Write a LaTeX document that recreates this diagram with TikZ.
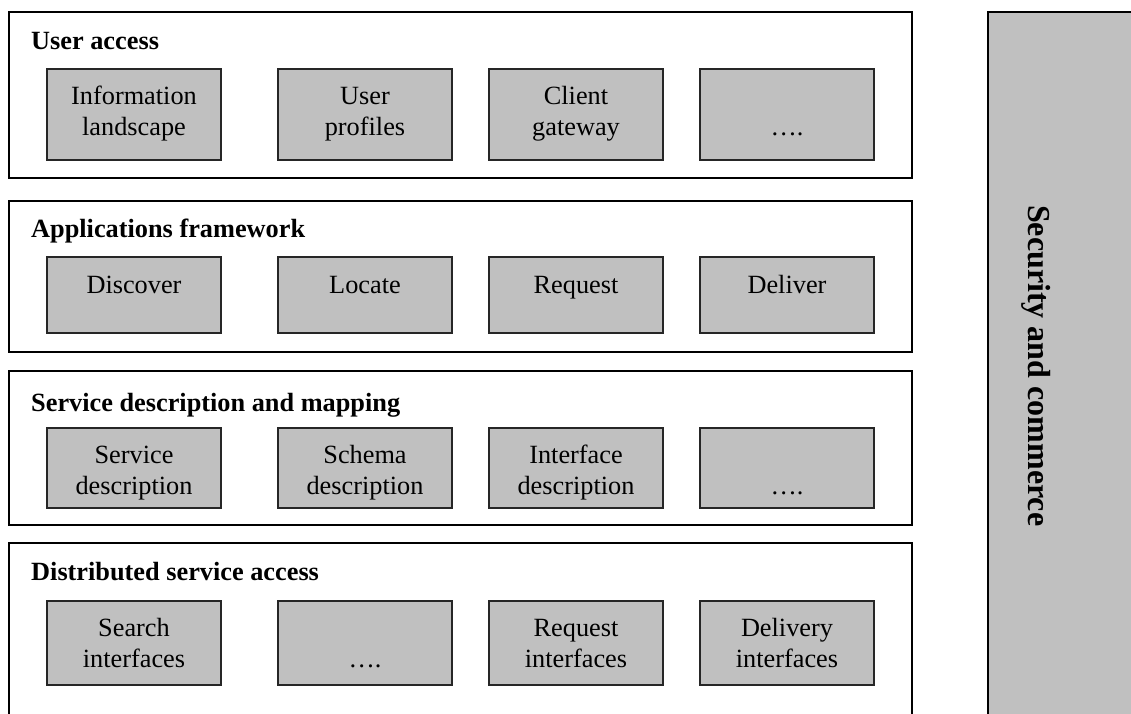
\documentclass[tikz,border=0pt]{standalone}
\usepackage{fontspec}
\setmainfont{Liberation Serif}
\definecolor{boxgray}{HTML}{C0C0C0}
\begin{document}
\begin{tikzpicture}[x=1pt,y=-1pt,
  layer/.style={draw=black, line width=1.4pt, inner sep=0pt},
  inbox/.style={draw=black!85, fill=boxgray, line width=1.1pt, inner sep=0pt, minimum width=174pt},
  intext/.style={font=\fontsize{26.3}{31}\selectfont, align=center, inner sep=0pt, anchor=north},
  ttl/.style={font=\bfseries\fontsize{26.3}{31}\selectfont, inner sep=0pt, anchor=base west},
  sec/.style={font=\bfseries\fontsize{32}{36}\selectfont, inner sep=0pt, anchor=base west, rotate=-90}]
\useasboundingbox (0,0) rectangle (1131,713);

% security column
\node[draw=black, fill=boxgray, line width=1.2pt, inner sep=0pt, minimum width=157pt, minimum height=728pt] (S) at (1066.5,376) {};
\node[sec] (St) at (1028,205) {Security and commerce};

% layers
\node[layer, minimum width=903pt, minimum height=166pt] (L1) at (460.5,95) {};
\node[layer, minimum width=903pt, minimum height=151pt] (L2) at (460.5,276.5) {};
\node[layer, minimum width=903pt, minimum height=154pt] (L3) at (460.5,448) {};
\node[layer, minimum width=903pt, minimum height=197pt] (L4) at (460.5,641.5) {};

\node[ttl] (T1) at (31,49) {User access};
\node[ttl] (T2) at (31,237) {Applications framework};
\node[ttl] (T3) at (31,411) {Service description and mapping};
\node[ttl] (T4) at (31,580) {Distributed service access};

% row 1
\foreach \c/\n in {134/a,365/b,576/c,787/d}
  \node[inbox, minimum height=91pt] (B1\n) at (\c,114.5) {};
\node[intext] (X1a) at (134,80) {\rule{0pt}{24pt}Information\\landscape};
\node[intext] (X1b) at (365,80) {\rule{0pt}{24pt}User\\profiles};
\node[intext] (X1c) at (576,80) {\rule{0pt}{24pt}Client\\gateway};
\node[intext] (X1d) at (787,80) {\rule{0pt}{24pt}\\….};

% row 2
\foreach \c/\n in {134/a,365/b,576/c,787/d}
  \node[inbox, minimum height=76pt] (B2\n) at (\c,295) {};
\node[intext] (X2a) at (134,269) {\rule{0pt}{24pt}Discover};
\node[intext] (X2b) at (365,269) {\rule{0pt}{24pt}Locate};
\node[intext] (X2c) at (576,269) {\rule{0pt}{24pt}Request};
\node[intext] (X2d) at (787,269) {\rule{0pt}{24pt}Deliver};

% row 3
\foreach \c/\n in {134/a,365/b,576/c,787/d}
  \node[inbox, minimum height=80pt] (B3\n) at (\c,468) {};
\node[intext] (X3a) at (134,439) {\rule{0pt}{24pt}Service\\description};
\node[intext] (X3b) at (365,439) {\rule{0pt}{24pt}Schema\\description};
\node[intext] (X3c) at (576,439) {\rule{0pt}{24pt}Interface\\description};
\node[intext] (X3d) at (787,439) {\rule{0pt}{24pt}\\….};

% row 4
\foreach \c/\n in {134/a,365/b,576/c,787/d}
  \node[inbox, minimum height=84pt] (B4\n) at (\c,643) {};
\node[intext] (X4a) at (134,612) {\rule{0pt}{24pt}Search\\interfaces};
\node[intext] (X4b) at (365,612) {\rule{0pt}{24pt}\\….};
\node[intext] (X4c) at (576,612) {\rule{0pt}{24pt}Request\\interfaces};
\node[intext] (X4d) at (787,612) {\rule{0pt}{24pt}Delivery\\interfaces};
\end{tikzpicture}
\end{document}
